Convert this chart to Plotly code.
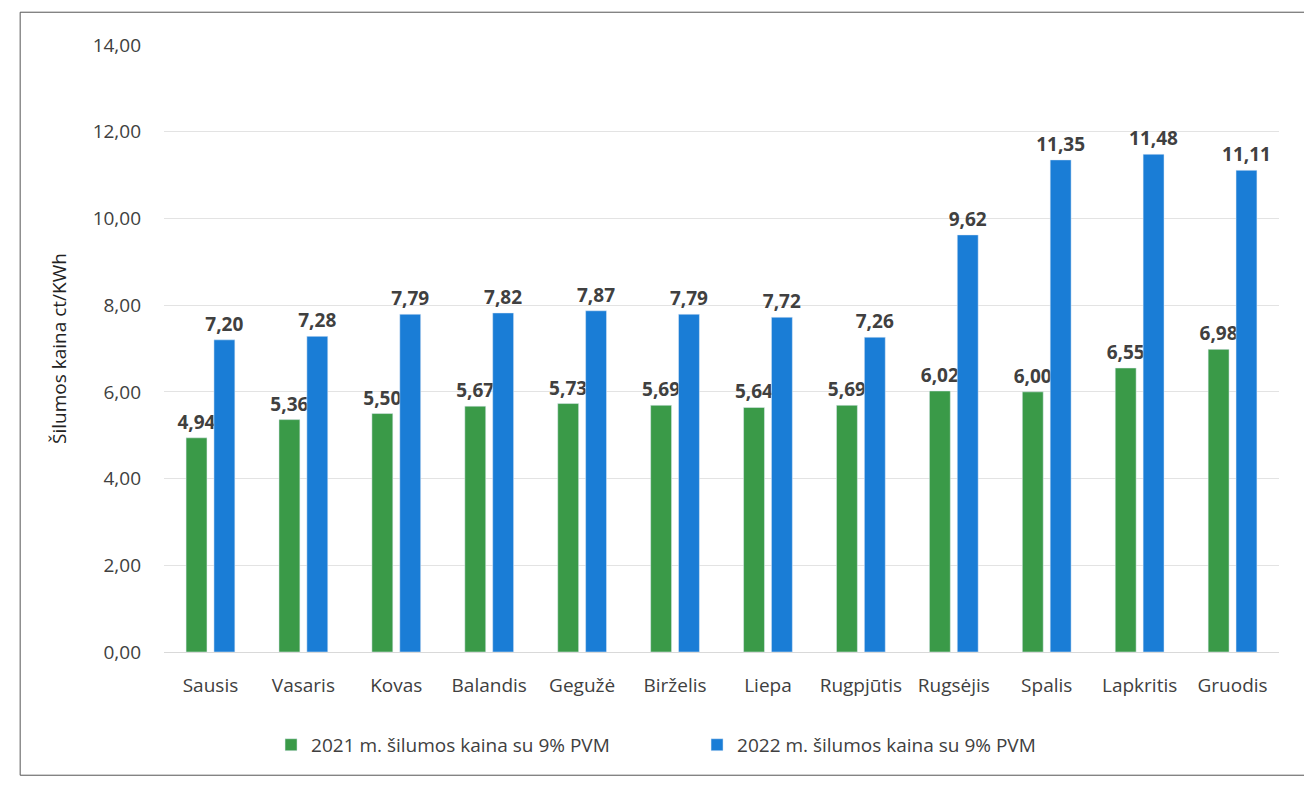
import plotly.graph_objects as go

months = ["Sausis", "Vasaris", "Kovas", "Balandis", "Gegužė", "Birželis", "Liepa",
          "Rugpjūtis", "Rugsėjis", "Spalis", "Lapkritis", "Gruodis"]
price_2021 = [4.94, 5.36, 5.50, 5.67, 5.73, 5.69, 5.64, 5.69, 6.02, 6.00, 6.55, 6.98]
price_2022 = [7.20, 7.28, 7.79, 7.82, 7.87, 7.79, 7.72, 7.26, 9.62, 11.35, 11.48, 11.11]
name_2021 = "2021 m. šilumos kaina su 9% PVM"
name_2022 = "2022 m. šilumos kaina su 9% PVM"
y_ticks = [0, 2, 4, 6, 8, 10, 12, 14]
y_tick_text = [f"{v:.2f}".replace(".", ",") for v in y_ticks]

def fmt(vals):
    return [f"{v:.2f}".replace(".", ",") for v in vals]

FONT = "Open Sans"
TXT = "#404040"

fig = go.Figure()
fig.add_trace(go.Bar(x=months, y=price_2021, name=name_2021, marker_color="#3a9a48",
                     text=fmt(price_2021), textposition="outside", cliponaxis=False,
                     constraintext="none",
                     textfont=dict(family=FONT, size=19, color=TXT, weight="bold")))
fig.add_trace(go.Bar(x=months, y=price_2022, name=name_2022, marker_color="#1a7dd6",
                     text=fmt(price_2022), textposition="outside", cliponaxis=False,
                     constraintext="none",
                     textfont=dict(family=FONT, size=19, color=TXT, weight="bold")))

fig.update_layout(
    width=1312, height=786,
    paper_bgcolor="white", plot_bgcolor="white",
    margin=dict(l=156, r=41, t=37, b=142, autoexpand=False),
    barmode="group", bargap=0.4, bargroupgap=0.25,
    font=dict(family=FONT, size=19, color=TXT),
    legend=dict(orientation="h", x=0.096, y=-0.153, xanchor="left", yanchor="middle",
                font=dict(family=FONT, size=19, color=TXT), itemwidth=30,
                bgcolor="rgba(0,0,0,0)", traceorder="normal", entrywidth=381),
    showlegend=True,
)
fig.update_xaxes(showgrid=False, showline=True, linecolor="#d9d9d9", ticks="",
                 tickfont=dict(family=FONT, size=19, color=TXT), automargin=False,
                 ticklabelstandoff=16)
fig.update_yaxes(range=[0, 14], tickvals=y_ticks, ticktext=y_tick_text,
                 showgrid=True, gridcolor="#e3e3e3", zeroline=False, showline=False,
                 tickfont=dict(family=FONT, size=19, color=TXT), ticklabelstandoff=22,
                 automargin=False,
                 title=dict(text="Šilumos kaina ct/KWh", font=dict(family=FONT, size=19, color="#222"),
                            standoff=20))
fig.add_shape(type="rect", xref="paper", yref="paper", x0=-0.129, x1=1.023, y0=-0.203, y1=1.054,
              line=dict(color="#555", width=1), fillcolor="rgba(0,0,0,0)", layer="below")

fig.write_html("out.html")
